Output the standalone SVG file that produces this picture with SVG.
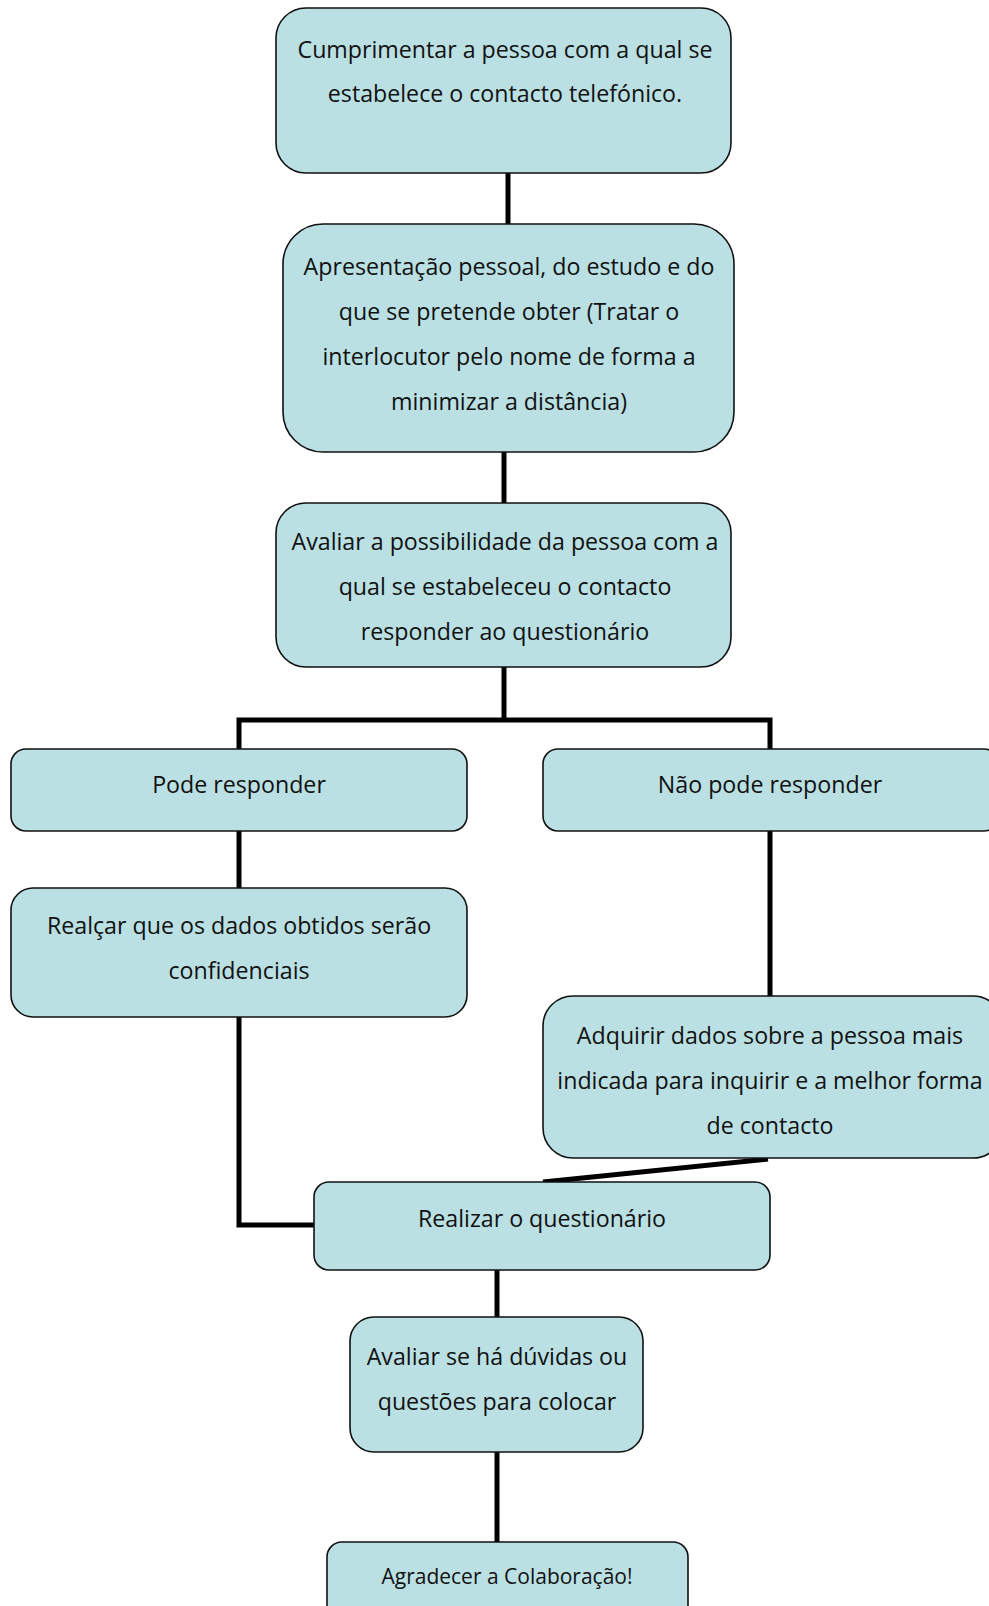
<svg xmlns="http://www.w3.org/2000/svg" width="989" height="1606" viewBox="0 0 989 1606">
  <style>
    .box { fill: #bae0e3; stroke: #111; stroke-width: 1.6; }
    .lbl { font-family: "Open Sans", "Noto Sans", sans-serif; font-size: 23.2px; fill: #111; text-anchor: middle; }
    .sm { font-size: 21px; }
    .wire { fill: none; stroke: #000; stroke-width: 5; }
  </style>
  <rect width="989" height="1606" fill="#fff"/>

  <g id="connectors">
    <line class="wire" x1="508" y1="173" x2="508" y2="225"/>
    <line class="wire" x1="504" y1="452" x2="504" y2="504"/>
    <polyline class="wire" points="504,667 504,720"/>
    <polyline class="wire" points="239,749 239,720 770,720 770,749"/>
    <line class="wire" x1="239" y1="831" x2="239" y2="888"/>
    <line class="wire" x1="770" y1="831" x2="770" y2="996"/>
    <polyline class="wire" points="239,1017 239,1225 314,1225"/>
    <line class="wire" x1="768" y1="1159" x2="543" y2="1182"/>
    <line class="wire" x1="497" y1="1270" x2="497" y2="1317"/>
    <line class="wire" x1="497" y1="1452" x2="497" y2="1542"/>
  </g>

  <g id="greet">
    <rect class="box" x="276" y="8" width="455" height="165" rx="30"/>
    <text class="lbl" x="505" y="58">Cumprimentar a pessoa com a qual se</text>
    <text class="lbl" x="505" y="102">estabelece o contacto telefónico.</text>
  </g>

  <g id="intro">
    <rect class="box" x="283" y="224" width="451" height="228" rx="40"/>
    <text class="lbl" x="509" y="275">Apresentação pessoal, do estudo e do</text>
    <text class="lbl" x="509" y="320">que se pretende obter (Tratar o</text>
    <text class="lbl" x="509" y="365">interlocutor pelo nome de forma a</text>
    <text class="lbl" x="509" y="410">minimizar a distância)</text>
  </g>

  <g id="assess">
    <rect class="box" x="276" y="503" width="455" height="164" rx="30"/>
    <text class="lbl" x="505" y="550">Avaliar a possibilidade da pessoa com a</text>
    <text class="lbl" x="505" y="595">qual se estabeleceu o contacto</text>
    <text class="lbl" x="505" y="640">responder ao questionário</text>
  </g>

  <g id="can">
    <rect class="box" x="11" y="749" width="456" height="82" rx="15"/>
    <text class="lbl" x="239" y="793">Pode responder</text>
  </g>

  <g id="cannot">
    <rect class="box" x="543" y="749" width="456" height="82" rx="15"/>
    <text class="lbl" x="770" y="793">Não pode responder</text>
  </g>

  <g id="confidential">
    <rect class="box" x="11" y="888" width="456" height="129" rx="22"/>
    <text class="lbl" x="239" y="934">Realçar que os dados obtidos serão</text>
    <text class="lbl" x="239" y="979">confidenciais</text>
  </g>

  <g id="referral">
    <rect class="box" x="543" y="996" width="460" height="162" rx="30"/>
    <text class="lbl" x="770" y="1044">Adquirir dados sobre a pessoa mais</text>
    <text class="lbl" x="770" y="1089">indicada para inquirir e a melhor forma</text>
    <text class="lbl" x="770" y="1134">de contacto</text>
  </g>

  <g id="survey">
    <rect class="box" x="314" y="1182" width="456" height="88" rx="15"/>
    <text class="lbl" x="542" y="1227">Realizar o questionário</text>
  </g>

  <g id="questions">
    <rect class="box" x="350" y="1317" width="293" height="135" rx="24"/>
    <text class="lbl" x="497" y="1365">Avaliar se há dúvidas ou</text>
    <text class="lbl" x="497" y="1410">questões para colocar</text>
  </g>

  <g id="thanks">
    <rect class="box" x="327" y="1542" width="361" height="90" rx="15"/>
    <text class="lbl sm" x="507" y="1584">Agradecer a Colaboração!</text>
  </g>
</svg>
